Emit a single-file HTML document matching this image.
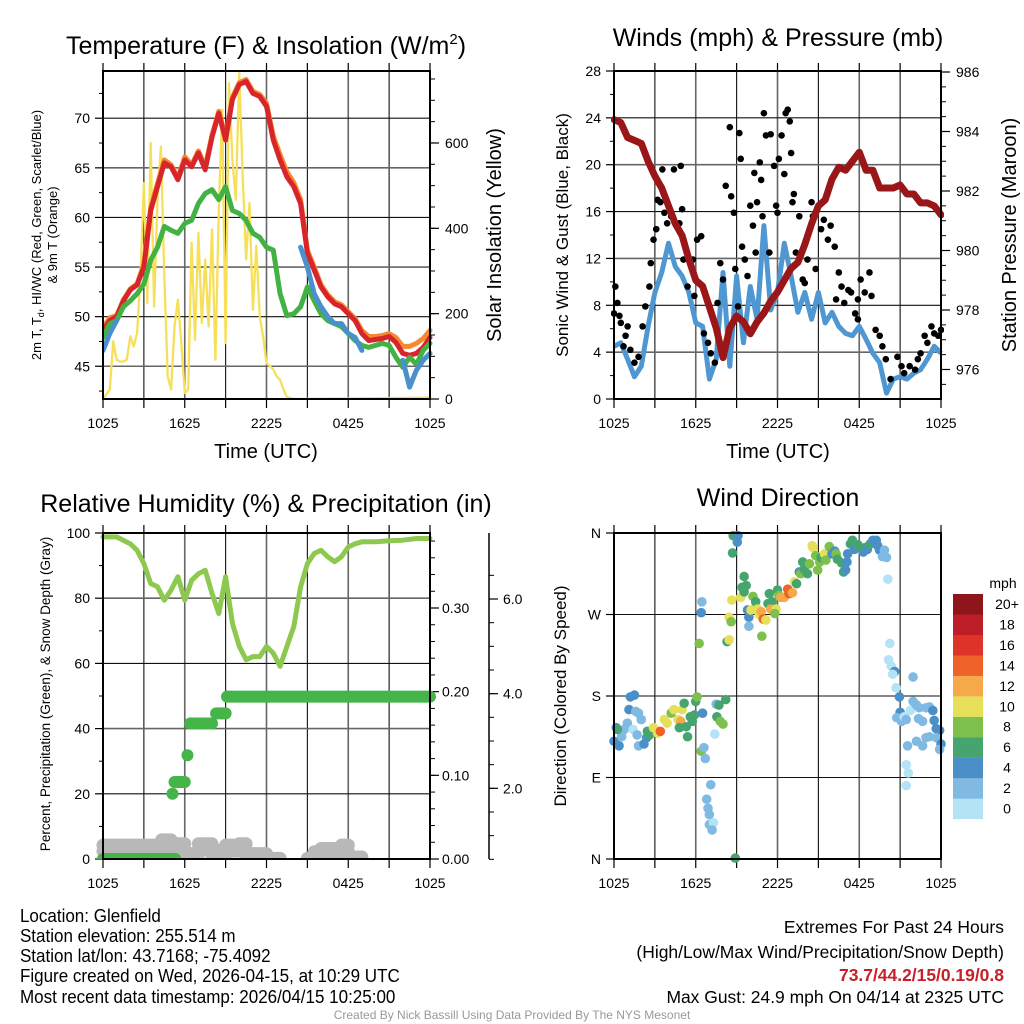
<!DOCTYPE html>
<html><head><meta charset="utf-8"><style>
body{margin:0;background:#fff;}
svg{display:block;font-family:"Liberation Sans",sans-serif;}
</style></head><body>
<svg id="root" width="1024" height="1024" viewBox="0 0 1024 1024" xmlns="http://www.w3.org/2000/svg">
<rect width="1024" height="1024" fill="#fff"/>
<g id="g"></g>
<text x="266" y="54" text-anchor="middle" font-size="25">Temperature (F) &amp; Insolation (W/m<tspan dy="-10" font-size="15">2</tspan><tspan dy="10">)</tspan></text>
<text x="778" y="46" text-anchor="middle" font-size="25">Winds (mph) &amp; Pressure (mb)</text>
<text x="266" y="512" text-anchor="middle" font-size="25">Relative Humidity (%) &amp; Precipitation (in)</text>
<text x="778" y="506" text-anchor="middle" font-size="25">Wind Direction</text>
<text x="266" y="458" text-anchor="middle" font-size="20">Time (UTC)</text>
<text x="778" y="458" text-anchor="middle" font-size="20">Time (UTC)</text>
<text transform="translate(41,235) rotate(-90)" text-anchor="middle" font-size="13">2m T, T<tspan dy="3" font-size="9">d</tspan><tspan dy="-3">, HI/WC (Red, Green, Scarlet/Blue)</tspan></text>
<text transform="translate(57,235) rotate(-90)" text-anchor="middle" font-size="13">&amp; 9m T (Orange)</text>
<text transform="translate(501,235) rotate(-90)" text-anchor="middle" font-size="20">Solar Insolation (Yellow)</text>
<text transform="translate(568,235) rotate(-90)" text-anchor="middle" font-size="17">Sonic Wind &amp; Gust (Blue, Black)</text>
<text transform="translate(1016,235) rotate(-90)" text-anchor="middle" font-size="20">Station Pressure (Maroon)</text>
<text transform="translate(50,694) rotate(-90)" text-anchor="middle" font-size="13.5">Percent, Precipitation (Green), &amp; Snow Depth (Gray)</text>
<text transform="translate(566,696) rotate(-90)" text-anchor="middle" font-size="17">Direction (Colored By Speed)</text>
<text x="1003" y="588" text-anchor="middle" font-size="14">mph</text>
<g font-size="18.5" transform="scale(0.92,1)">
<text x="21.7" y="922">Location: Glenfield</text>
<text x="21.7" y="942">Station elevation: 255.514 m</text>
<text x="21.7" y="962">Station lat/lon: 43.7168; -75.4092</text>
<text x="21.7" y="982">Figure created on Wed, 2026-04-15, at 10:29 UTC</text>
<text x="21.7" y="1003">Most recent data timestamp: 2026/04/15 10:25:00</text>
</g>
<g font-size="18" text-anchor="end" transform="scale(0.97,1)">
<text x="1035" y="933">Extremes For Past 24 Hours</text>
<text x="1035" y="958">(High/Low/Max Wind/Precipitation/Snow Depth)</text>
<text x="1035" y="981" fill="#c8202a" font-weight="bold">73.7/44.2/15/0.19/0.8</text>
<text x="1035" y="1003">Max Gust: 24.9 mph On 04/14 at 2325 UTC</text>
</g>
<text x="512" y="1019" text-anchor="middle" font-size="12" fill="#999">Created By Nick Bassill Using Data Provided By The NYS Mesonet</text>
</svg>
<script>
// ---- data (hours since 1025 UTC) ----
const hoursHalf = [0,0.5,1,1.5,2,2.5,3,3.5,4,4.5,5,5.5,6,6.5,7,7.5,8,8.5,9,9.5,10,10.5,11,11.5,12,12.5,13,13.5,14,14.5,15,15.5,16,16.5,17,17.5,18,18.5,19,19.5,20,20.5,21,21.5,22,22.5,23,23.5,24];
const tempRed = [48.6,49.6,50.0,51.6,52.7,53.2,55.0,60.7,63.1,65.5,65.1,63.8,65.8,65.1,66.5,64.8,68.1,70.5,67.8,71.9,73.4,73.7,72.5,72.2,71.2,67.8,65.8,64.1,63.1,61.4,56.4,54.7,53.0,52.0,51.3,51.0,50.3,49.6,48.3,47.6,47.7,47.8,48.0,47.4,46.3,46.1,46.3,46.9,47.9];
const tempOrange = [48.9,49.9,50.1,51.7,52.8,53.3,55.3,61.0,63.4,65.8,65.3,64.0,66.1,65.3,66.7,65.1,68.3,70.7,68.1,72.1,73.6,73.9,72.7,72.4,71.5,68.2,66.3,64.6,63.5,61.8,56.7,55.0,53.2,52.2,51.5,51.2,50.5,49.8,48.6,48.0,48.0,48.1,48.3,47.9,47.0,47.0,47.3,47.8,48.6];
const dewGreen = [47.9,49.3,49.6,51.0,51.6,52.3,53.3,55.7,57.0,59.1,58.7,58.4,59.4,59.7,61.4,62.4,62.8,61.8,63.1,60.7,60.4,59.7,58.4,58.0,57.0,56.7,52.3,50.1,50.3,51.0,53.0,51.6,50.3,49.6,49.3,49.0,48.3,47.6,47.1,46.9,47.1,47.3,47.1,45.9,44.9,45.9,45.2,46.6,47.3];
const wcBlue = [46.6,48.3,49.6,null,null,null,null,null,null,null,null,null,null,null,null,null,null,null,null,null,null,null,null,null,null,null,null,null,null,57.0,55.0,52.3,51.0,50.0,49.3,49.3,48.3,47.9,46.6,null,null,null,null,null,45.6,42.9,44.6,45.6,46.3];
const solarHours = [0,0.5,0.75,1,1.25,1.5,1.75,2,2.25,2.5,2.75,3,3.25,3.5,3.75,4,4.25,4.5,4.75,5,5.25,5.5,5.75,6,6.25,6.5,6.75,7,7.25,7.5,7.75,8,8.25,8.5,8.75,9,9.25,9.5,9.75,10,10.25,10.5,10.75,11,11.25,11.5,11.75,12,12.25,12.5,12.75,13,13.25,13.5,14,24];
const solarValues = [0,22,135,92,88,88,92,147,123,155,295,506,225,600,217,467,592,288,53,22,170,233,131,14,22,366,139,389,178,327,170,397,92,444,678,131,740,561,467,764,522,327,459,209,359,194,147,84,77,69,53,45,22,5,0,3];
const windBlue = [4.5,4.8,3.4,1.9,2.8,6.2,9.1,10.8,13.3,11.3,10.5,9.1,6.5,6.2,1.7,3.4,10.8,2.8,10.5,4.8,9.6,6.8,14.8,7.6,9.1,13.3,10.5,7.4,9.1,6.8,9.1,6.5,7.4,6.2,5.6,5.4,6.2,5.1,3.9,3.1,0.5,1.7,1.9,1.7,2.2,2.5,3.4,4.5,3.9];
const pressure = [984.4,984.3,983.8,983.7,983.6,983.0,982.5,982.1,981.5,980.9,980.5,979.7,979.0,978.8,978.1,977.4,976.4,977.4,977.8,977.6,977.2,977.6,977.9,978.3,978.6,979.0,979.4,979.6,980.2,980.9,981.5,981.7,982.4,982.8,982.7,983.0,983.3,982.7,982.7,982.1,982.1,982.1,982.2,981.9,981.9,981.6,981.6,981.5,981.2];
const gustHours = [0,0.1,0.25,0.4,0.5,0.85,1.0,0.7,1.2,1.5,1.8,2.1,2.3,2.6,2.7,2.9,3.1,3.2,3.4,3.55,3.7,3.9,4.2,4.4,4.9,5.0,4.8,5.1,5.4,5.8,5.9,6.1,6.4,6.6,6.9,7.1,7.4,7.6,7.8,8.0,8.2,8.5,8.6,8.8,8.9,9.1,9.2,9.3,9.4,9.6,9.8,10.0,10.2,10.3,10.4,10.5,10.7,10.8,10.9,11.0,11.15,11.4,11.5,11.75,11.9,12.0,12.1,12.3,12.5,12.6,12.75,12.9,13.0,13.1,13.2,13.35,13.6,13.85,14.0,14.2,14.5,14.6,14.8,15.2,15.4,15.7,15.9,16.2,16.3,16.5,16.7,16.9,17.2,17.4,17.7,17.9,17.9,18.1,18.4,18.75,18.9,19.2,19.5,19.7,19.95,20.3,20.8,21.1,21.3,21.7,22.1,22.3,22.5,22.8,23.0,23.3,23.5,23.8,24.0];
const gustValues = [7.3,9.6,8.2,7.1,6.5,5.4,6.2,4.5,4.2,3.1,3.6,6.2,7.9,9.6,11.6,13.6,14.5,17.0,16.8,19.6,15.9,15.0,15.6,19.6,19.9,16.2,15.0,11.9,9.6,11.9,8.8,13.6,13.9,5.6,4.8,3.9,3.1,8.2,11.6,10.2,18.2,23.2,17.3,15.9,11.1,7.9,22.7,20.5,13.0,11.9,10.5,16.5,14.8,19.3,12.5,16.8,20.2,18.7,15.6,24.4,22.5,12.5,22.6,19.9,16.5,15.9,20.5,22.5,19.2,24.4,24.7,23.7,21.0,16.8,17.5,12.5,15.6,10.2,9.9,11.9,16.8,15.6,11.1,14.5,15.3,13.6,14.8,13.0,8.5,10.8,9.6,8.2,9.3,9.1,7.3,8.5,6.8,10.2,9.1,10.8,8.8,5.9,5.4,4.5,3.4,1.7,3.6,2.8,2.2,2.8,2.5,3.4,3.9,5.4,4.8,6.2,5.6,5.4,5.9];
const rhHours = [0,1,2,2.5,3,3.5,4,4.5,5,5.5,6,6.5,7,7.5,8,8.5,9,9.5,10,10.5,11,11.5,12,12.5,13,13.5,14,14.5,15,15.5,16,16.5,17,17.5,18,18.5,19,20,21,22,23,24];
const rhValues = [98.8,98.8,96.7,94.7,90.6,84.5,83.5,79.4,82.5,86.6,79.4,85.5,87.5,88.6,81.5,75.3,86.6,72.3,65.2,61.1,62.1,62.1,65.2,63.1,59.1,65.2,71.3,83.5,90.6,93.7,94.7,92.7,91.2,92.7,95.7,96.7,97.3,97.3,97.6,97.8,98.3,98.3];
const precipStart = [0,5.1,5.25,6.2,6.4,8.3,9.1];
const precipEnd = [5.3,5.1,6.0,6.2,8.0,9.0,24];
const precipValues = [0.0,0.078,0.092,0.124,0.162,0.174,0.194];
const snowStart = [0,4.3,5,5.5,6,7,8,9,10,10.5,11,12,15,15.5,16,17,17.5,18];
const snowEnd = [4.3,5,5.5,6,7,8,9,10,10.5,11,12,13,15.5,16,17,17.5,18,19];
const snowValues = [0.80,0.91,0.73,0.83,0.62,0.83,0.69,0.80,0.83,0.55,0.62,0.52,0.52,0.66,0.73,0.66,0.80,0.55];
const dirHours = [0,0.17,0.37,0.56,0.74,0.98,1.1,1.2,1.5,1.4,1.6,1.8,2.0,1.7,1.8,2.2,2.4,2.45,2.6,0.25,2.9,3.2,3.4,3.7,3.9,4.2,4.4,4.7,4.9,5.0,4.8,5.3,5.4,5.15,5.6,5.9,6.0,6.1,5.75,6.5,6.4,6.6,6.7,7.1,6.8,6.9,7.0,7.0,7.3,7.2,7.4,7.5,7.7,7.55,7.8,8.0,8.2,6.25,6.4,6.45,8.3,8.45,8.45,8.6,8.65,8.75,9.1,9.05,8.7,8.9,9.3,9.4,9.55,9.7,9.55,9.8,9.9,9.9,10.05,10.2,10.3,10.4,10.55,10.65,10.8,10.95,11.15,10.85,11.3,11.4,11.6,11.5,11.9,11.8,12.0,12.1,12.25,12.5,12.75,12.85,13.1,13.25,13.4,13.6,13.7,13.85,13.95,14.2,14.35,14.55,14.6,14.8,14.95,15.1,15.2,15.45,15.55,15.8,16.0,16.2,16.3,16.4,16.7,16.85,17.0,17.1,17.15,17.35,17.5,17.65,17.9,18.05,18.3,18.45,18.6,18.8,19.0,19.25,19.35,19.5,19.7,19.85,20.0,20.1,20.25,20.15,20.35,20.6,20.45,20.7,20.95,21.0,20.75,21.1,21.3,21.75,21.95,21.95,22.2,22.4,22.35,22.65,22.9,23.15,23.4,23.5,23.65,23.9,23.15,22.9,22.65,22.2,21.55,21.45,21.6,21.45,23.65,24.0,23.9,21.45];
const dirValues = [130,145,125,135,143,150,165,179,181,143,163,161,154,137,125,127,134,141,137,143,145,139,141,154,150,161,165,154,152,165,145,146,135,172,157,159,174,179,152,161,119,123,111,82,66,56,49,38,40,32,138,171,170,157,152,149,176,238,272,284,240,242,267,262,286,357,357,350,338,1,289,300,312,302,295,275,267,257,275,290,276,284,276,270,273,265,264,246,282,293,284,276,276,271,297,291,289,289,298,293,294,306,304,317,315,328,320,315,326,346,344,335,319,328,333,337,330,345,337,340,337,331,327,317,319,328,337,348,352,342,347,344,339,344,342,348,352,352,346,341,334,341,333,309,238,220,213,207,204,189,179,162,156,152,157,164,201,174,170,167,155,152,167,168,164,153,144,142,135,134,125,130,125,104,95,81,134,127,121,154];
const dirSpeeds = [4,4,4,3,3,3,4,5,4,1,3,3,3,3,3,4,4,6,6,6,10,10,14,10,10,8,10,11,12,10,6,6,6,6,6,6,6,8,6,4,8,3,3,3,3,3,3,3,1,3,1,3,6,6,8,8,6,8,4,3,6,10,10,8,10,6,4,4,6,6,10,6,6,6,6,4,4,3,10,8,10,6,10,10,12,14,10,8,6,6,6,12,10,8,6,8,12,12,14,14,12,10,6,4,8,6,6,6,8,10,10,8,8,8,6,10,8,8,4,4,8,6,6,6,4,4,4,6,6,4,6,6,4,6,4,6,4,4,4,4,3,3,3,1,1,1,1,4,1,1,4,4,3,3,1,1,3,3,3,3,3,3,3,3,4,4,4,4,3,3,3,3,3,1,1,1,3,4,3,3];
const speedColors = ["#b3e3f5","#80bae3","#4a8fc7","#46a56e","#7dc04c","#e6df5a","#f6a94a","#ef6229","#dd3329","#bc1d26","#8e1519"];
const speedLabels = ["0","2","4","6","8","10","12","14","16","18","20+"];
const timeLabels = ["1025","1625","2225","0425","1025"];

// ---- helpers ----
const NS="http://www.w3.org/2000/svg";
const G=document.getElementById('g');
function el(tag,attrs,parent){const e=document.createElementNS(NS,tag);for(const k in attrs)e.setAttribute(k,attrs[k]);(parent||G).appendChild(e);return e;}
function txt(x,y,s,size,anchor,parent){const t=el('text',{x:x,y:y,'font-size':size,'text-anchor':anchor||'middle'},parent);t.textContent=s;return t;}
function linear(d0,d1,r0,r1){return v=>r0+(v-d0)*(r1-r0)/(d1-d0);}
function pathFrom(xs,ys,fx,fy){let d='',pen=false;for(let i=0;i<xs.length;i++){if(ys[i]===null){pen=false;continue;}d+=(pen?'L':'M')+fx(xs[i]).toFixed(1)+','+fy(ys[i]).toFixed(1);pen=true;}return d;}

function frame(name,x0,x1,y0,y1,leftTicks,leftFy,leftLabels,leftMinor,gridDark){
  const g=el('g',{});
  
  
  const fx=linear(0,24,x0,x1);
  for(let h=3;h<24;h+=3){
    const l=el('line',{x1:fx(h),x2:fx(h),y1:y0,y2:y1,stroke:(h%6===0)?'#666':'#111','stroke-width':(h%6===0)?1.6:1.1},g);
    
    
  }
  leftTicks.forEach((v,i)=>{
    const y=leftFy(v);
    if(Math.abs(y-y0)>2&&Math.abs(y-y1)>2){
      const l=el('line',{x1:x0,x2:x1,y1:y,y2:y,stroke:gridDark(i)?'#111':'#666','stroke-width':gridDark(i)?1.1:1.6},g);
      
      
    }
    el('line',{x1:x0-8,x2:x0,y1:y,y2:y,stroke:'#000','stroke-width':1.2},g);
    const t=txt(x0-13,y+5,leftLabels[i],14,'end',g);
    
    
  });
  leftMinor.forEach(v=>{const y=leftFy(v);el('line',{x1:x0-4,x2:x0,y1:y,y2:y,stroke:'#000','stroke-width':1},g);});
  for(let h=0;h<=24;h+=3){
    el('line',{x1:fx(h),x2:fx(h),y1:y1,y2:y1+9,stroke:'#000','stroke-width':1.2},g);
    el('line',{x1:fx(h),x2:fx(h),y1:y0-8,y2:y0,stroke:'#000','stroke-width':1.2},g);
  }
  timeLabels.forEach((s,i)=>{const t=txt(fx(i*6),y1+29,s,14,'middle',g);
    
    });
  return fx;
}
function border(name,x0,x1,y0,y1){
  const r=el('rect',{x:x0,y:y0,width:x1-x0,height:y1-y0,fill:'none',stroke:'#000','stroke-width':2});
  
  
}
function rightAxis(name,xa,y0,y1,ticks,fy,labels,minor,lx){
  const g=el('g',{});
  
  
  ticks.forEach((v,i)=>{const y=fy(v);el('line',{x1:xa,x2:xa+9,y1:y,y2:y,stroke:'#000','stroke-width':1.2},g);
    const t=txt(lx,y+5,labels[i],14,'start',g);
    
    });
  minor.forEach(v=>{const y=fy(v);if(y>=y0-1&&y<=y1+1)el('line',{x1:xa,x2:xa+5,y1:y,y2:y,stroke:'#000','stroke-width':1},g);});
}
function range(a,b,s){const r=[];for(let v=a;v<=b+1e-9;v+=s)r.push(+v.toFixed(4));return r;}

// ===== Panel 1: temperature =====
{
 const x0=103,x1=430,y0=71,y1=399;
 const fyT=linear(41.7,74.76,y1,y0), fyI=linear(0,768.7,y1,y0);
 const fx=frame('temperature',x0,x1,y0,y1,[45,50,55,60,65,70],fyT,['45','50','55','60','65','70'],range(42.5,72.5,5),i=>i%2===1);
 rightAxis('insolation-axis',x1,y0,y1,[0,200,400,600],fyI,['0','200','400','600'],range(50,750,50),x1+15);
 const cp=el('clipPath',{id:'c1'});el('rect',{x:x0,y:y0-10,width:x1-x0+3,height:y1-y0+10},cp);
 const g=el('g',{'clip-path':'url(#c1)'});
 const ys=el('path',{d:pathFrom(solarHours,solarValues,fx,fyI),fill:'none',stroke:'#f6e05a','stroke-width':2.3,'stroke-linejoin':'round'},g);
 
 
 const lo=el('path',{d:pathFrom(hoursHalf,tempOrange,fx,fyT),fill:'none',stroke:'#f7882f','stroke-width':5,'stroke-linejoin':'round','stroke-linecap':'round'},g);
 
 
 const lr=el('path',{d:pathFrom(hoursHalf,tempRed,fx,fyT),fill:'none',stroke:'#d7262b','stroke-width':5,'stroke-linejoin':'round','stroke-linecap':'round'},g);
 
 
 const lg=el('path',{d:pathFrom(hoursHalf,dewGreen,fx,fyT),fill:'none',stroke:'#43b244','stroke-width':5,'stroke-linejoin':'round','stroke-linecap':'round'},g);
 
 
 const lb=el('path',{d:pathFrom(hoursHalf,wcBlue,fx,fyT),fill:'none',stroke:'#4a90cc','stroke-width':5,'stroke-linejoin':'round','stroke-linecap':'round'},g);
 
 
 border('temperature',x0,x1,y0,y1);
}
// ===== Panel 2: winds =====
{
 const x0=614,x1=941,y0=71,y1=399;
 const fyW=linear(0,28,y1,y0), fyP=linear(976,986,369.5,72);
 const fx=frame('wind',x0,x1,y0,y1,range(0,28,4),fyW,['0','4','8','12','16','20','24','28'],range(2,26,4),i=>i%2===0);
 rightAxis('pressure-axis',x1,y0,y1,[976,978,980,982,984,986],fyP,['976','978','980','982','984','986'],range(975.5,985.5,0.5),x1+15);
 const cp=el('clipPath',{id:'c2'});el('rect',{x:x0-3,y:y0-3,width:x1-x0+6,height:y1-y0+3},cp);
 const g=el('g',{'clip-path':'url(#c2)'});
 const lb=el('path',{d:pathFrom(hoursHalf,windBlue,fx,fyW),fill:'none',stroke:'#4f97d2','stroke-width':5,'stroke-linejoin':'round'},g);
 
 
 gustHours.forEach((h,i)=>{const c=el('circle',{cx:fx(h),cy:fyW(gustValues[i]),r:3.3,fill:'#000'},g);
  
  });
 const lp=el('path',{d:pathFrom(hoursHalf,pressure,fx,fyP),fill:'none',stroke:'#9b1618','stroke-width':7,'stroke-linejoin':'round','stroke-linecap':'round'},g);
 
 
 border('wind',x0,x1,y0,y1);
}
// ===== Panel 3: humidity =====
{
 const x0=103,x1=430,y0=533,y1=859;
 const fyR=linear(0,100,y1,y0), fyPr=linear(0,0.3,y1,608), fySn=linear(0,6,883,599);
 const fx=frame('humidity',x0,x1,y0,y1,[0,20,40,60,80,100],fyR,['0','20','40','60','80','100'],range(10,90,20),i=>i%2===1);
 rightAxis('precipitation-axis',x1,y0,y1,[0,0.1,0.2,0.3],fyPr,['0.00','0.10','0.20','0.30'],range(0.02,0.38,0.02),x1+12);
 const sa=el('line',{x1:489,x2:489,y1:y0,y2:y1,stroke:'#000','stroke-width':1.5});
 
 
 rightAxis('snow-depth-axis',489,y0,y1,[2,4,6],fySn,['2.0','4.0','6.0'],range(0.5,6.5,0.5),503);
 const cp=el('clipPath',{id:'c3'});el('rect',{x:x0-10,y:y0-5,width:x1-x0+20,height:y1-y0+5},cp);
 const g=el('g',{'clip-path':'url(#c3)'});
 snowStart.forEach((h,i)=>{const s=el('line',{x1:fx(h),x2:fx(snowEnd[i]),y1:fySn(snowValues[i]),y2:fySn(snowValues[i]),stroke:'#b8b8b8','stroke-width':13,'stroke-linecap':'round'},g);
  
  
  const s2=el('line',{x1:fx(h),x2:fx(snowEnd[i]),y1:fySn(snowValues[i])+6,y2:fySn(snowValues[i])+6,stroke:'#b8b8b8','stroke-width':13,'stroke-linecap':'round'},g);
  
  });
 const lr=el('path',{d:pathFrom(rhHours,rhValues,fx,fyR),fill:'none',stroke:'#8dc951','stroke-width':5,'stroke-linejoin':'round','stroke-linecap':'round'},g);
 
 
 precipStart.forEach((h,i)=>{const s=el('line',{x1:fx(h),x2:fx(precipEnd[i]),y1:fyPr(precipValues[i]),y2:fyPr(precipValues[i]),stroke:'#45b549','stroke-width':12,'stroke-linecap':'round'},g);
  
  });
 border('humidity',x0,x1,y0,y1);
}
// ===== Panel 4: direction =====
{
 const x0=614,x1=941,y0=533,y1=859;
 const fyD=linear(0,360,y1,y0);
 const fx=frame('direction',x0,x1,y0,y1,[0,90,180,270,360],fyD,['N','E','S','W','N'],[],i=>true);
 const cp=el('clipPath',{id:'c4'});el('rect',{x:x0-8,y:y0-8,width:x1-x0+16,height:y1-y0+16},cp);
 const g=el('g',{'clip-path':'url(#c4)'});
 dirHours.forEach((h,i)=>{const idx=Math.min(10,Math.floor(dirSpeeds[i]/2));
  const c=el('circle',{cx:fx(h),cy:fyD(dirValues[i]),r:4.8,fill:speedColors[idx]},g);
  
  });
 border('direction',x0,x1,y0,y1);
 const cb=el('g',{});
 
 
 speedColors.forEach((c,i)=>{const y=798.5-i*20.45;
  const r=el('rect',{x:953,y:y,width:30,height:20.6,fill:c},cb);
  
  
  const t=txt(1007,y+15,speedLabels[i],14,'middle',cb);
  
  });
}
</script>
</body></html>
